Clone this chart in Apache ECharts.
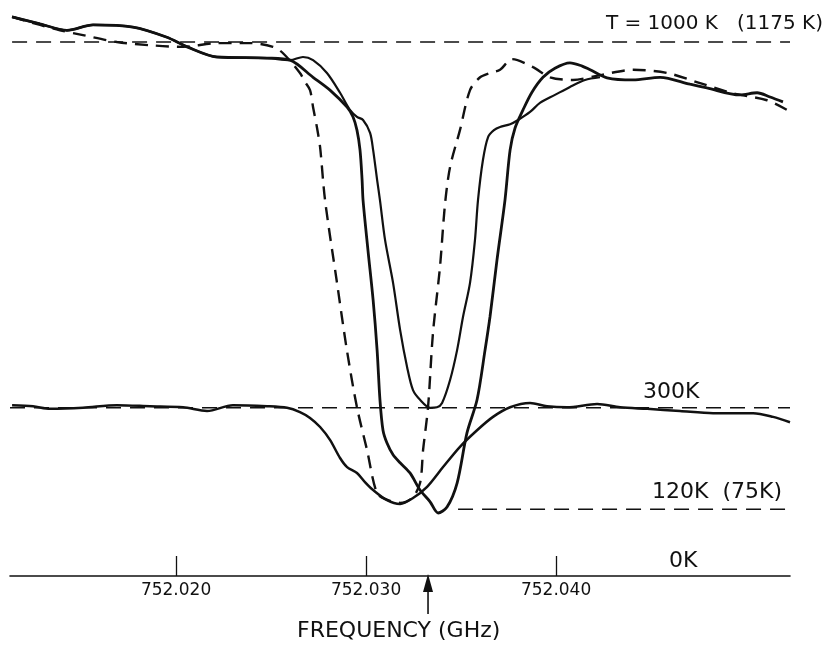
<!DOCTYPE html>
<html>
<head>
<meta charset="utf-8">
<script src="https://cdn.jsdelivr.net/npm/echarts@6/dist/echarts.min.js"></script>
<style>
html,body{margin:0;padding:0;background:#fff;}
#chart{width:829px;height:646px;}
</style>
</head>
<body>
<div id="chart"></div>
<script>
// x: MHz above 752 GHz, y: brightness level (K, schematic)
var freqTicks = [20, 30, 40];
var lineCenter = 33.26;

var hotDashed = [
	[11.37,1047],[12.84,1032],[13.89,1022],[15.10,1013],[16.89,1000],[18.63,994],[20.37,991],
	[22.15,998],[23.89,998],[25.10,991],[25.63,979],[26.52,942],[26.79,925],[27.05,910],
	[27.21,878],[27.42,839],[27.58,803],[27.84,704],[28.47,549],[28.99,423],[29.52,316],
	[30.05,236],[30.58,155],[31.15,142],[31.79,137],[32.42,146],[32.84,174],[33.00,236],
	[33.26,316],[33.52,455],[33.89,579],[34.15,695],[34.42,766],[34.94,835],[35.47,910],
	[36.00,934],[36.52,942],[37.05,948],[37.68,968],[38.79,953],[39.68,934],[40.89,929],
	[42.31,938],[44.05,948],[45.84,942],[47.58,923],[49.31,904],[51.10,891],[52.15,873]
];

var hotThin = [
	[11.37,1047],[12.84,1034],[14.26,1022],[15.63,1032],[17.73,1028],[19.52,1009],[20.58,991],
	[22.15,972],[24.79,970],[26.00,966],[26.68,972],[27.21,966],[27.94,942],[28.63,905],
	[29.15,873],[29.52,860],[29.84,854],[30.21,830],[30.37,798],[30.58,742],[30.73,704],
	[31.00,629],[31.42,549],[31.79,461],[32.16,391],[32.47,348],[32.84,330],[33.37,315],
	[33.73,316],[34.00,324],[34.42,367],[34.79,423],[35.10,485],[35.47,549],[35.73,629],
	[35.89,704],[36.15,779],[36.42,822],[36.73,835],[37.05,841],[37.58,846],[38.00,854],
	[38.63,869],[39.15,886],[39.94,901],[40.73,916],[41.52,929],[42.31,934]
];

var hotThick = [
	[11.37,1047],[12.84,1034],[14.26,1022],[15.63,1032],[17.73,1028],[19.52,1009],[20.58,991],
	[22.15,972],[24.79,970],[26.00,966],[27.21,934],[28.10,910],[29.00,878],[29.31,860],
	[29.52,835],[29.68,798],[29.79,742],[29.84,704],[30.10,610],[30.37,517],[30.58,423],
	[30.73,330],[30.89,273],[31.10,249],[31.42,227],[31.79,212],[32.31,193],[32.84,161],
	[33.37,139],[33.79,118],[34.26,129],[34.79,174],[35.31,268],[35.84,330],[36.26,423],
	[36.52,485],[36.89,592],[37.31,704],[37.58,798],[37.84,839],[38.26,873],[38.73,906],
	[39.31,934],[39.94,951],[40.73,961],[41.37,955],[41.79,948],[42.68,933],[44.05,929],
	[45.47,934],[47.05,921],[47.94,914],[49.68,901],[50.58,905],[51.26,897],[51.94,888]
];

var warmSolid = [
	[11.37,320],[12.47,318],[13.37,313],[15.10,315],[16.89,320],[18.63,318],[20.37,316],
	[21.63,309],[22.99,320],[24.79,318],[25.84,315],[26.52,307],[27.05,296],[27.58,279],
	[28.10,255],[28.63,221],[29.00,204],[29.52,193],[29.94,176],[30.37,161],[31.10,142],
	[31.79,135],[32.47,146],[33.21,167],[34.05,204],[34.94,242],[35.84,273],[36.68,298],
	[37.58,316],[38.63,324],[39.52,318],[40.58,316],[42.16,322],[43.37,316],[44.79,313],
	[46.52,309],[48.26,305],[50.37,305],[51.42,298],[52.31,288]
];

var level1000 = [[11.37,1000],[52.31,1000]];
var level300 = [[11.26,315],[52.31,315]];
var level120 = [[34.84,125],[52.05,125]];

var ink = '#111';
var font = 'DejaVu Sans';

function curve(data, width, dashed){
	return {
		type:'line',
		data:data,
		smooth:0.3,
		showSymbol:false,
		silent:true,
		lineStyle:{color:ink, width:width, type:dashed ? [13,8] : 'solid'}
	};
}
function level(data){
	return {
		type:'line',
		data:data,
		showSymbol:false,
		silent:true,
		lineStyle:{color:ink, width:1.4, type:[15,9]}
	};
}

var myChart = echarts.init(document.getElementById('chart'));
var option = {
	backgroundColor:'#fff',
	animation:false,
	grid:{left:10, right:39, top:10, bottom:70},
	xAxis:{
		type:'value',
		min:11.26,
		max:52.31,
		axisLine:{lineStyle:{color:ink, width:1.6}},
		axisTick:{show:true, inside:true, length:20, customValues:freqTicks, lineStyle:{color:ink, width:1.3}},
		axisLabel:{
			customValues:freqTicks,
			margin:6,
			color:ink,
			fontFamily:font,
			fontSize:17,
			formatter:function(v){ return (752 + v/1000).toFixed(3); }
		},
		splitLine:{show:false}
	},
	yAxis:{
		type:'value',
		min:0,
		max:1060,
		show:false
	},
	series:[
		level(level1000),
		level(level300),
		level(level120),
		curve(hotDashed, 2.4, true),
		curve(hotThin, 2.2, false),
		curve(hotThick, 2.8, false),
		curve(warmSolid, 2.5, false)
	]
};
myChart.setOption(option);

var p = myChart.convertToPixel({xAxisIndex:0, yAxisIndex:0}, [lineCenter, 0]);
var ax = p[0], ay = p[1];
myChart.setOption({
	graphic:[
		{type:'text', right:6, top:14, style:{text:'T = 1000 K   (1175 K)', font:'20px "DejaVu Sans"', fill:ink}},
		{type:'text', left:643, top:381, style:{text:'300K', font:'22px "DejaVu Sans"', fill:ink}},
		{type:'text', left:652, top:481, style:{text:'120K  (75K)', font:'22px "DejaVu Sans"', fill:ink}},
		{type:'text', left:669, top:550, style:{text:'0K', font:'22px "DejaVu Sans"', fill:ink}},
		{type:'text', left:297, top:620, style:{text:'FREQUENCY (GHz)', font:'22px "DejaVu Sans"', fill:ink}},
		{type:'line', shape:{x1:ax, y1:ay+14, x2:ax, y2:ay+38}, style:{stroke:ink, lineWidth:1.6}},
		{type:'polygon', shape:{points:[[ax, ay-2],[ax-5, ay+16],[ax+5, ay+16]]}, style:{fill:ink}}
	]
});
window.addEventListener('resize', function(){
	myChart.resize();
});
</script>
</body>
</html>
